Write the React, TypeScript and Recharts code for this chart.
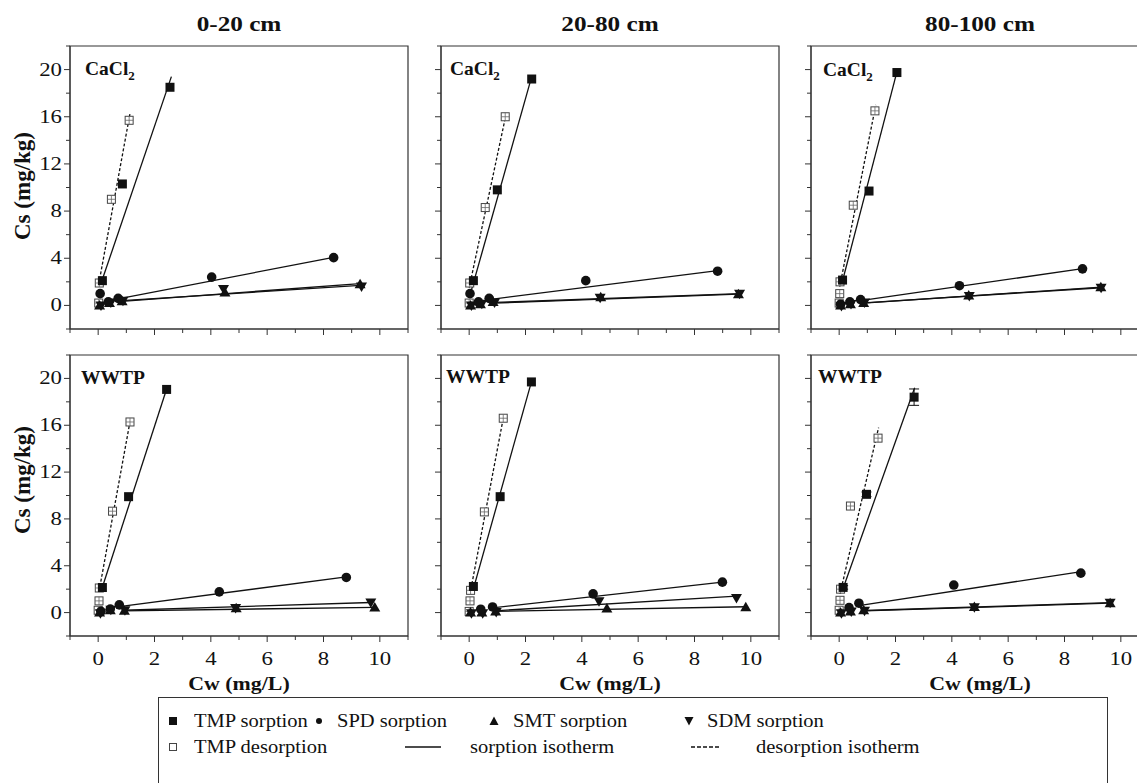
import React from 'react';
import { ErrorBar, ReferenceArea, Scatter, ScatterChart, XAxis, YAxis } from 'recharts';

type Pt = [number, number];

const COLUMN_TITLES = ['0-20 cm', '20-80 cm', '80-100 cm'];
const X_TICKS = [-1, 0, 1, 2, 3, 4, 5, 6, 7, 8, 9, 10, 11];
const Y_TICKS = [-2, 0, 2, 4, 6, 8, 10, 12, 14, 16, 18, 20, 22];
const X_LABELED = [0, 2, 4, 6, 8, 10];
const Y_LABELED = [0, 4, 8, 12, 16, 20];

// 0-20 cm, CaCl2
const C1_TMP_S: Pt[] = [[0.15, 2.1], [0.86, 10.3], [2.55, 18.5]];
const C1_TMP_S_FIT: Pt[] = [[0.12, 2.0], [2.6, 19.4]];
const C1_TMP_D: Pt[] = [[0.02, 0.2], [0.04, 1.9], [0.47, 9.0], [1.1, 15.7]];
const C1_TMP_D_FIT: Pt[] = [[0.02, 1.8], [1.14, 16.4]];
const C1_SPD: Pt[] = [[0.07, 1.0], [0.36, 0.3], [0.71, 0.6], [4.03, 2.4], [8.36, 4.05]];
const C1_SPD_FIT: Pt[] = [[0.71, 0.55], [8.4, 4.1]];
const C1_SMT: Pt[] = [[0.05, 0.0], [0.4, 0.2], [0.85, 0.35], [4.5, 1.1], [9.3, 1.8]];
const C1_SMT_FIT: Pt[] = [[0.85, 0.35], [9.3, 1.85]];
const C1_SDM: Pt[] = [[0.1, 0.0], [0.45, 0.25], [0.88, 0.4], [4.45, 1.4], [9.35, 1.6]];
const C1_SDM_FIT: Pt[] = [[0.85, 0.4], [9.3, 1.7]];

// 20-80 cm, CaCl2
const C2_TMP_S: Pt[] = [[0.15, 2.1], [1.0, 9.8], [2.22, 19.2]];
const C2_TMP_S_FIT: Pt[] = [[0.08, 1.3], [2.22, 19.4]];
const C2_TMP_D: Pt[] = [[0.0, 0.2], [0.02, 1.9], [0.57, 8.3], [1.28, 16.0]];
const C2_TMP_D_FIT: Pt[] = [[0.0, 1.5], [1.3, 16.1]];
const C2_SPD: Pt[] = [[0.03, 1.0], [0.33, 0.3], [0.71, 0.6], [4.14, 2.1], [8.82, 2.9]];
const C2_SPD_FIT: Pt[] = [[0.71, 0.5], [8.82, 2.95]];
const C2_SMT: Pt[] = [[0.05, 0.0], [0.4, 0.1], [0.85, 0.3], [4.67, 0.7], [9.56, 0.95]];
const C2_SMT_FIT: Pt[] = [[0.9, 0.2], [9.56, 0.95]];
const C2_SDM: Pt[] = [[0.08, 0.0], [0.45, 0.15], [0.9, 0.25], [4.65, 0.65], [9.6, 1.0]];
const C2_SDM_FIT: Pt[] = [[0.9, 0.25], [9.6, 1.0]];

// 80-100 cm, CaCl2
const C3_TMP_S: Pt[] = [[0.12, 2.15], [1.06, 9.7], [2.05, 19.75]];
const C3_TMP_S_FIT: Pt[] = [[0.1, 1.9], [2.05, 19.8]];
const C3_TMP_D: Pt[] = [[0.0, 0.2], [0.02, 1.0], [0.03, 2.0], [0.5, 8.5], [1.27, 16.5]];
const C3_TMP_D_FIT: Pt[] = [[0.02, 1.6], [1.3, 17.0]];
const C3_SPD: Pt[] = [[0.05, 0.1], [0.38, 0.3], [0.76, 0.5], [4.27, 1.67], [8.64, 3.1]];
const C3_SPD_FIT: Pt[] = [[0.76, 0.4], [8.64, 3.12]];
const C3_SMT: Pt[] = [[0.05, 0.0], [0.4, 0.1], [0.87, 0.2], [4.6, 0.85], [9.29, 1.55]];
const C3_SMT_FIT: Pt[] = [[0.87, 0.2], [9.3, 1.55]];
const C3_SDM: Pt[] = [[0.08, -0.05], [0.42, 0.12], [0.9, 0.25], [4.62, 0.8], [9.3, 1.5]];
const C3_SDM_FIT: Pt[] = [[0.87, 0.22], [9.3, 1.5]];

// 0-20 cm, WWTP
const W1_TMP_S: Pt[] = [[0.15, 2.14], [1.08, 9.9], [2.43, 19.06]];
const W1_TMP_S_FIT: Pt[] = [[0.1, 1.8], [2.43, 19.1]];
const W1_TMP_D: Pt[] = [[0.0, 0.2], [0.03, 1.0], [0.04, 2.1], [0.51, 8.66], [1.13, 16.28]];
const W1_TMP_D_FIT: Pt[] = [[0.03, 1.8], [1.13, 16.3]];
const W1_SPD: Pt[] = [[0.1, 0.1], [0.43, 0.3], [0.75, 0.66], [4.3, 1.77], [8.81, 3.0]];
const W1_SPD_FIT: Pt[] = [[0.75, 0.5], [8.81, 3.05]];
const W1_SMT: Pt[] = [[0.05, 0.0], [0.43, 0.2], [0.93, 0.15], [4.9, 0.37], [9.82, 0.43]];
const W1_SMT_FIT: Pt[] = [[0.9, 0.15], [9.82, 0.45]];
const W1_SDM: Pt[] = [[0.08, -0.05], [0.45, 0.25], [0.95, 0.2], [4.88, 0.4], [9.68, 0.86]];
const W1_SDM_FIT: Pt[] = [[0.9, 0.2], [9.68, 0.86]];

// 20-80 cm, WWTP
const W2_TMP_S: Pt[] = [[0.15, 2.23], [1.1, 9.9], [2.21, 19.7]];
const W2_TMP_S_FIT: Pt[] = [[0.1, 1.6], [2.21, 19.7]];
const W2_TMP_D: Pt[] = [[0.0, 0.1], [0.03, 1.0], [0.05, 1.9], [0.54, 8.6], [1.21, 16.6]];
const W2_TMP_D_FIT: Pt[] = [[0.03, 1.6], [1.21, 16.6]];
const W2_SPD: Pt[] = [[0.41, 0.29], [0.83, 0.48], [4.4, 1.6], [8.99, 2.6]];
const W2_SPD_FIT: Pt[] = [[0.83, 0.4], [8.99, 2.6]];
const W2_SMT: Pt[] = [[0.05, 0.0], [0.45, 0.0], [0.94, 0.1], [4.89, 0.34], [9.82, 0.45]];
const W2_SMT_FIT: Pt[] = [[0.9, 0.1], [9.82, 0.5]];
const W2_SDM: Pt[] = [[0.08, -0.05], [0.48, -0.05], [0.96, 0.05], [4.61, 0.96], [9.49, 1.24]];
const W2_SDM_FIT: Pt[] = [[0.9, 0.15], [9.49, 1.4]];

// 80-100 cm, WWTP
const W3_TMP_S: Pt[] = [[0.14, 2.15], [0.97, 10.1], [2.66, 18.4]];
const W3_TMP_S_ERR = [0.15, 0.2, 0.7];
const W3_TMP_S_FIT: Pt[] = [[0.1, 1.8], [2.68, 19.2]];
const W3_TMP_D: Pt[] = [[0.0, 0.2], [0.03, 1.05], [0.05, 2.0], [0.4, 9.1], [1.38, 14.9]];
const W3_TMP_D_FIT: Pt[] = [[0.03, 1.6], [1.4, 15.8]];
const W3_SPD: Pt[] = [[0.35, 0.42], [0.7, 0.8], [4.07, 2.35], [8.58, 3.37]];
const W3_SPD_FIT: Pt[] = [[0.7, 0.6], [8.6, 3.5]];
const W3_SMT: Pt[] = [[0.05, 0.0], [0.4, 0.1], [0.87, 0.2], [4.8, 0.48], [9.62, 0.79]];
const W3_SMT_FIT: Pt[] = [[0.9, 0.15], [9.6, 0.8]];
const W3_SDM: Pt[] = [[0.08, -0.05], [0.43, 0.1], [0.9, 0.15], [4.8, 0.45], [9.62, 0.85]];
const W3_SDM_FIT: Pt[] = [[0.9, 0.18], [9.6, 0.85]];

const INK = '#111';
const AXIS = '#333';
const SERIF = '"Liberation Serif", "Times New Roman", serif';

const pts = (a: Pt[], err?: number[]) => a.map(([x, y], i) => ({ x, y, err: err ? err[i] : 0 }));

const FilledSquare = (p: any) => <rect x={p.cx - 4.5} y={p.cy - 4.5} width={9} height={9} fill={INK} />;
const CrossSquare = (p: any) => (
  <g>
    <rect x={p.cx - 4} y={p.cy - 4} width={8} height={8} fill="#fff" stroke="#444" strokeWidth={1} />
    <path d={`M${p.cx - 4},${p.cy}H${p.cx + 4}M${p.cx},${p.cy - 4}V${p.cy + 4}`} stroke="#666" strokeWidth={0.8} />
  </g>
);
const Dot = (p: any) => <circle cx={p.cx} cy={p.cy} r={4.8} fill={INK} />;
const TriUp = (p: any) => <path d={`M${p.cx},${p.cy - 5.5}L${p.cx + 5.5},${p.cy + 4}L${p.cx - 5.5},${p.cy + 4}Z`} fill={INK} />;
const TriDown = (p: any) => <path d={`M${p.cx},${p.cy + 5.5}L${p.cx + 5.5},${p.cy - 4}L${p.cx - 5.5},${p.cy - 4}Z`} fill={INK} />;
const NoShape = () => <g />;

function XTick({ x, y, payload, show }: any) {
  const v = payload.value;
  const major = v % 2 === 0;
  return (
    <g>
      <line x1={x} x2={x} y1={y} y2={y + (major ? 6 : 4)} stroke={AXIS} />
      {show && X_LABELED.includes(v) && (
        <text transform={`translate(${x},${y + 29}) scale(1.2,1)`} textAnchor="middle" fontFamily={SERIF} fontSize={19} fill={INK}>
          {v}
        </text>
      )}
    </g>
  );
}

function YTick({ x, y, payload, show }: any) {
  const v = payload.value;
  const major = v % 4 === 0;
  return (
    <g>
      <line x1={x - (major ? 6 : 4)} x2={x} y1={y} y2={y} stroke={AXIS} />
      {show && Y_LABELED.includes(v) && (
        <text transform={`translate(${x - 8},${y + 6}) scale(1.2,1)`} textAnchor="end" fontFamily={SERIF} fontSize={19} fill={INK}>
          {v}
        </text>
      )}
    </g>
  );
}

interface PanelData {
  tmpS: Pt[]; tmpSErr?: number[]; tmpSFit: Pt[]; tmpD: Pt[]; tmpDFit: Pt[];
  spd: Pt[]; spdFit: Pt[]; smt: Pt[]; smtFit: Pt[]; sdm: Pt[]; sdmFit: Pt[];
}

const ROWS: PanelData[][] = [
  [
    { tmpS: C1_TMP_S, tmpSFit: C1_TMP_S_FIT, tmpD: C1_TMP_D, tmpDFit: C1_TMP_D_FIT, spd: C1_SPD, spdFit: C1_SPD_FIT, smt: C1_SMT, smtFit: C1_SMT_FIT, sdm: C1_SDM, sdmFit: C1_SDM_FIT },
    { tmpS: C2_TMP_S, tmpSFit: C2_TMP_S_FIT, tmpD: C2_TMP_D, tmpDFit: C2_TMP_D_FIT, spd: C2_SPD, spdFit: C2_SPD_FIT, smt: C2_SMT, smtFit: C2_SMT_FIT, sdm: C2_SDM, sdmFit: C2_SDM_FIT },
    { tmpS: C3_TMP_S, tmpSFit: C3_TMP_S_FIT, tmpD: C3_TMP_D, tmpDFit: C3_TMP_D_FIT, spd: C3_SPD, spdFit: C3_SPD_FIT, smt: C3_SMT, smtFit: C3_SMT_FIT, sdm: C3_SDM, sdmFit: C3_SDM_FIT },
  ],
  [
    { tmpS: W1_TMP_S, tmpSFit: W1_TMP_S_FIT, tmpD: W1_TMP_D, tmpDFit: W1_TMP_D_FIT, spd: W1_SPD, spdFit: W1_SPD_FIT, smt: W1_SMT, smtFit: W1_SMT_FIT, sdm: W1_SDM, sdmFit: W1_SDM_FIT },
    { tmpS: W2_TMP_S, tmpSFit: W2_TMP_S_FIT, tmpD: W2_TMP_D, tmpDFit: W2_TMP_D_FIT, spd: W2_SPD, spdFit: W2_SPD_FIT, smt: W2_SMT, smtFit: W2_SMT_FIT, sdm: W2_SDM, sdmFit: W2_SDM_FIT },
    { tmpS: W3_TMP_S, tmpSErr: W3_TMP_S_ERR, tmpSFit: W3_TMP_S_FIT, tmpD: W3_TMP_D, tmpDFit: W3_TMP_D_FIT, spd: W3_SPD, spdFit: W3_SPD_FIT, smt: W3_SMT, smtFit: W3_SMT_FIT, sdm: W3_SDM, sdmFit: W3_SDM_FIT },
  ],
];

const COL_LEFT = [70, 441, 811];
const COL_W = 338;
const ROW_TOP = [46, 355];
const ROW_H = [283, 281];
const Y_LABEL_CENTER = [186, 480];
const TAG_POS = [
  [[85, 59], [450, 59], [823, 60]],
  [[81, 368], [446, 367], [818, 367]],
];

function Panel({ d, left, top, width, height, yLabels, xLabels }: { d: PanelData; left: number; top: number; width: number; height: number; yLabels: boolean; xLabels: boolean }) {
  const L = 60, T = 10, R = 4, B = 50;
  const solid = { stroke: INK, strokeWidth: 1.3 };
  const dashed = { stroke: INK, strokeWidth: 1.3, strokeDasharray: '3 2' };
  return (
    <div style={{ position: 'absolute', left: left - L, top: top - T }}>
      <ScatterChart width={width + L + R} height={height + T + B} margin={{ top: T, right: R, bottom: 0, left: 0 }}>
        <XAxis type="number" dataKey="x" domain={[-1, 11]} ticks={X_TICKS} interval={0} height={B}
          tickSize={0} tickMargin={0} tickLine={false} axisLine={{ stroke: AXIS }}
          tick={(p: any) => <XTick {...p} show={xLabels} />} />
        <YAxis type="number" dataKey="y" domain={[-2, 22]} ticks={Y_TICKS} interval={0} width={L}
          tickSize={0} tickMargin={0} tickLine={false} axisLine={{ stroke: AXIS }}
          tick={(p: any) => <YTick {...p} show={yLabels} />} />
        <ReferenceArea x1={-1} x2={11} y1={-2} y2={22} fill="none" stroke={AXIS} strokeWidth={1.2} />
        <Scatter data={pts(d.tmpSFit)} line={solid} shape={NoShape} isAnimationActive={false} />
        <Scatter data={pts(d.tmpDFit)} line={dashed} shape={NoShape} isAnimationActive={false} />
        <Scatter data={pts(d.spdFit)} line={solid} shape={NoShape} isAnimationActive={false} />
        <Scatter data={pts(d.smtFit)} line={solid} shape={NoShape} isAnimationActive={false} />
        <Scatter data={pts(d.sdmFit)} line={solid} shape={NoShape} isAnimationActive={false} />
        <Scatter data={pts(d.tmpD)} shape={CrossSquare} isAnimationActive={false} />
        <Scatter data={pts(d.smt)} shape={TriUp} isAnimationActive={false} />
        <Scatter data={pts(d.sdm)} shape={TriDown} isAnimationActive={false} />
        <Scatter data={pts(d.spd)} shape={Dot} isAnimationActive={false} />
        <Scatter data={pts(d.tmpS, d.tmpSErr)} shape={FilledSquare} isAnimationActive={false}>
          {d.tmpSErr && <ErrorBar dataKey="err" direction="y" width={5} stroke={INK} strokeWidth={1} isAnimationActive={false} />}
        </Scatter>
      </ScatterChart>
    </div>
  );
}

const txt = (extra: React.CSSProperties = {}): React.CSSProperties => ({
  position: 'absolute', whiteSpace: 'nowrap', fontFamily: SERIF, color: INK, lineHeight: 1, ...extra,
});

const legendText = (left: number, top: number) =>
  txt({ left, top, fontSize: 19, transform: 'scaleX(1.08)', transformOrigin: 'left center' });

function LegendMarker({ kind }: { kind: string }) {
  return (
    <svg width={12} height={12} style={{ display: 'block' }}>
      {kind === 'sq' && <rect x={2} y={2} width={8} height={8} fill={INK} />}
      {kind === 'osq' && <rect x={2.5} y={2.5} width={7} height={7} fill="#fff" stroke="#444" />}
      {kind === 'dot' && <circle cx={6} cy={6} r={3} fill={INK} />}
      {kind === 'up' && <path d="M6,1.5L10.5,10L1.5,10Z" fill={INK} />}
      {kind === 'down' && <path d="M6,10.5L10.5,2L1.5,2Z" fill={INK} />}
    </svg>
  );
}

const LEGEND_ROW1 = [
  { kind: 'sq', mx: 8, tx: 35, text: 'TMP sorption' },
  { kind: 'dot', mx: 154, tx: 178, text: 'SPD sorption' },
  { kind: 'up', mx: 329, tx: 354, text: 'SMT sorption' },
  { kind: 'down', mx: 524, tx: 548, text: 'SDM sorption' },
];

export default function App() {
  return (
    <div style={{ position: 'absolute', left: 0, top: 0, width: 1137, height: 783, overflow: 'hidden', background: '#fff' }}>
      {COLUMN_TITLES.map((t, i) => (
        <div key={t} style={txt({ left: COL_LEFT[i] + COL_W / 2 - 100, width: 200, textAlign: 'center', top: 14, fontSize: 21, fontWeight: 700, transform: 'scaleX(1.2)' })}>
          {t}
        </div>
      ))}
      {ROWS.map((row, r) =>
        row.map((d, c) => (
          <Panel key={`${r}-${c}`} d={d} left={COL_LEFT[c]} top={ROW_TOP[r]} width={COL_W} height={ROW_H[r]} yLabels={c === 0} xLabels={r === 1} />
        )),
      )}
      {ROWS.map((row, r) =>
        row.map((_, c) => (
          <div key={`tag-${r}-${c}`} style={txt({ left: TAG_POS[r][c][0], top: TAG_POS[r][c][1], fontSize: 19.5, fontWeight: 700 })}>
            {r === 0 ? (
              <>CaCl<span style={{ fontSize: 13, position: 'relative', top: 5 }}>2</span></>
            ) : 'WWTP'}
          </div>
        )),
      )}
      {Y_LABEL_CENTER.map((cy, r) => (
        <div key={`yl-${r}`} style={txt({ left: 22, top: cy, fontSize: 23, fontWeight: 700, transform: 'translate(-50%, -50%) rotate(-90deg)' })}>
          Cs (mg/kg)
        </div>
      ))}
      {COL_LEFT.map((l, c) => (
        <div key={`xl-${c}`} style={txt({ left: l + COL_W / 2 - 100, width: 200, textAlign: 'center', top: 674, fontSize: 19, fontWeight: 700, transform: 'scaleX(1.15)' })}>
          Cw (mg/L)
        </div>
      ))}
      <div style={{ position: 'absolute', left: 158, top: 697, width: 950, height: 120, border: `1.5px solid ${AXIS}`, boxSizing: 'border-box' }}>
        {LEGEND_ROW1.map((it) => (
          <React.Fragment key={it.text}>
            <div style={{ position: 'absolute', left: it.mx, top: 17 }}><LegendMarker kind={it.kind} /></div>
            <div style={legendText(it.tx, 13)}>{it.text}</div>
          </React.Fragment>
        ))}
        <div style={{ position: 'absolute', left: 8, top: 43 }}><LegendMarker kind="osq" /></div>
        <div style={legendText(35, 39)}>TMP desorption</div>
        <svg style={{ position: 'absolute', left: 246, top: 43 }} width={40} height={12}>
          <line x1={0} x2={36} y1={6} y2={6} stroke={INK} strokeWidth={1.3} />
        </svg>
        <div style={legendText(311, 39)}>sorption isotherm</div>
        <svg style={{ position: 'absolute', left: 532, top: 43 }} width={40} height={12}>
          <line x1={0} x2={30} y1={6} y2={6} stroke={INK} strokeWidth={1.3} strokeDasharray="4 2" />
        </svg>
        <div style={legendText(597, 39)}>desorption isotherm</div>
      </div>
    </div>
  );
}
